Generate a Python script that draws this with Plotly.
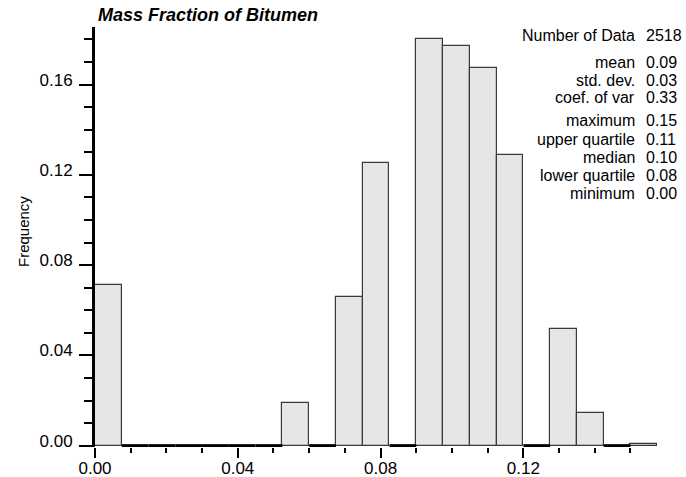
import plotly.graph_objects as go

# Histogram of bitumen mass fraction (21 classes of width 0.0075 starting at 0)
bin_start = 0.0
bin_width = 0.0075
frequency = [0.0711, 0.0, 0.0, 0.0, 0.0, 0.0, 0.0, 0.0188, 0.0, 0.0657, 0.1252,
             0.0, 0.1800, 0.1772, 0.1672, 0.1288, 0.0, 0.0517, 0.0143, 0.0, 0.0006]

y_tick_vals = [0.00, 0.04, 0.08, 0.12, 0.16]
x_tick_vals = [0.00, 0.04, 0.08, 0.12]

stat_labels = ["Number of Data", "mean", "std. dev.", "coef. of var",
               "maximum", "upper quartile", "median", "lower quartile", "minimum"]
stat_values = ["2518", "0.09", "0.03", "0.33",
               "0.15", "0.11", "0.10", "0.08", "0.00"]

FONT = "Liberation Sans, Arial, Helvetica, sans-serif"

# plot-area geometry (pixels)
W, H = 686, 477
L, R, T, B = 95, 27, 27, 30
pw, ph = W - L - R, H - T - B
Y_LO, Y_HI = -0.0006, 0.1855

centers = [bin_start + bin_width * (i + 0.5) for i in range(len(frequency))]
nz_x = [c for c, f in zip(centers, frequency) if f > 0]
nz_y = [f for f in frequency if f > 0]

# empty classes are drawn as a heavy line along zero
zx, zy = [], []
for i, f in enumerate(frequency):
    if f == 0:
        lo = bin_start + bin_width * i
        zx += [lo, lo + bin_width, None]
        zy += [0, 0, None]

fig = go.Figure()
fig.add_trace(go.Bar(
    x=nz_x, y=nz_y, width=bin_width,
    marker=dict(color="#e6e6e6", line=dict(color="#3a3a3a", width=1.2)),
    showlegend=False,
))
fig.add_trace(go.Scatter(
    x=zx, y=zy, mode="lines", line=dict(color="black", width=3),
    showlegend=False, hoverinfo="skip",
))

fig.update_layout(
    width=W, height=H,
    margin=dict(l=L, r=R, t=T, b=B, pad=0, autoexpand=False),
    paper_bgcolor="white", plot_bgcolor="white",
    font=dict(family=FONT, color="black"),
    bargap=0,
    title=dict(
        text="<b><i>Mass Fraction of Bitumen</i></b>",
        font=dict(family=FONT, size=18, color="black"),
        xref="container", yref="container",
        x=98 / W, y=1 - 15 / H, xanchor="left", yanchor="middle",
    ),
    xaxis=dict(
        range=[0, bin_width * 21 + 0.0005], automargin=False,
        tickvals=x_tick_vals, tickformat=".2f",
        ticks="outside", ticklen=10, tickwidth=1.5, tickcolor="black",
        minor=dict(dtick=0.01, tick0=0, ticks="outside", ticklen=5,
                   tickwidth=1.5, tickcolor="black"),
        showline=False, showgrid=False, zeroline=False,
        ticklabelstandoff=-4,
        tickfont=dict(family=FONT, size=17, color="black"),
    ),
    yaxis=dict(
        range=[Y_LO, Y_HI], automargin=False,
        tickvals=y_tick_vals, tickformat=".2f",
        ticks="outside", ticklen=13, tickwidth=1.5, tickcolor="black",
        minor=dict(dtick=0.01, tick0=0, ticks="outside", ticklen=8,
                   tickwidth=1.5, tickcolor="black"),
        showline=True, linewidth=3, linecolor="black",
        showgrid=False, zeroline=False,
        ticklabelshift=-5, ticklabelstandoff=3,
        tickfont=dict(family=FONT, size=17, color="black"),
    ),
)

# y-axis caption
fig.add_annotation(
    text="Frequency", textangle=-90,
    xref="paper", yref="paper",
    x=(23 - L) / pw, y=(H - B - 232) / ph,
    xanchor="center", yanchor="middle", showarrow=False,
    font=dict(family=FONT, size=15, color="black"),
)

# summary statistics block
row_y = [35, 62, 80, 98, 121, 139, 157, 175, 193]
for lab, val, py in zip(stat_labels, stat_values, row_y):
    yp = (H - B - py) / ph
    fig.add_annotation(text=lab, xref="paper", yref="paper",
                       x=(637 - L) / pw, y=yp, xanchor="right", yanchor="middle",
                       showarrow=False, font=dict(family=FONT, size=16, color="black"))
    fig.add_annotation(text=val, xref="paper", yref="paper",
                       x=(644 - L) / pw, y=yp, xanchor="left", yanchor="middle",
                       showarrow=False, font=dict(family=FONT, size=16, color="black"))

fig.write_html("out.html")
